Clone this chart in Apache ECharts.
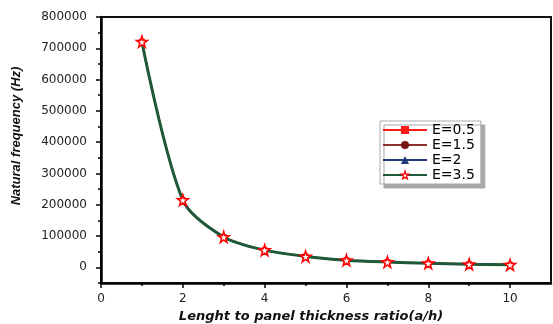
<!DOCTYPE html>
<html>
<head>
<meta charset="utf-8">
<script src="https://cdn.jsdelivr.net/npm/echarts@6/dist/echarts.min.js"></script>
<style>html,body{margin:0;padding:0;background:#fff;}#c{width:553px;height:324px;}</style>
</head>
<body>
<div id="c"></div>
<script>
var ratios = [1, 2, 3, 4, 5, 6, 7, 8, 9, 10];
var freqE05 = [721000, 215000, 97000, 55000, 35000, 23000, 17000, 13000, 10000, 8000];
var freqE15 = [721000, 215000, 97000, 55000, 35000, 23000, 17000, 13000, 10000, 8000];
var freqE2  = [721000, 215000, 97000, 55000, 35000, 23000, 17000, 13000, 10000, 8000];
var freqE35 = [721000, 215000, 97000, 55000, 35000, 23000, 17000, 13000, 10000, 8000];
var seriesNames = ['E=0.5', 'E=1.5', 'E=2', 'E=3.5'];
var xTickLabels = [0, 2, 4, 6, 8, 10];
var xMinorTicks = [1, 3, 5, 7, 9];
var yTickLabels = [0, 100000, 200000, 300000, 400000, 500000, 600000, 700000, 800000];

function pairs(vals) { return ratios.map(function (x, i) { return [x, vals[i]]; }); }
var star = 'path://M50,0 L61,35 L98,35 L68,57 L79,91 L50,70 L21,91 L32,57 L2,35 L39,35 Z';
var plain = function (v) { return String(v); };
var tickFont = { fontFamily: 'DejaVu Sans', fontSize: 12, color: '#222', formatter: plain };

var chart = echarts.init(document.getElementById('c'), null, { renderer: 'canvas' });
chart.setOption({
  animation: false,
  backgroundColor: '#fff',
  grid: { left: 101, right: 2, top: 17, bottom: 41, show: true, borderColor: '#111', borderWidth: 2 },
  xAxis: [
    { type: 'value', min: 0, max: 11, position: 'bottom',
      axisLine: { show: true, onZero: false, lineStyle: { color: '#000', width: 2.5 } },
      axisTick: { show: true, inside: false, length: 5, lineStyle: { color: '#000', width: 1.5 }, customValues: xTickLabels },
      axisLabel: Object.assign({ margin: 10, customValues: xTickLabels }, tickFont),
      splitLine: { show: false } },
    { type: 'value', min: 0, max: 11, position: 'bottom',
      axisLine: { show: false, onZero: false },
      axisTick: { show: true, length: 3, lineStyle: { color: '#000', width: 1.5 }, customValues: xMinorTicks },
      axisLabel: { show: false }, splitLine: { show: false } }
  ],
  yAxis: [
    { type: 'value', min: -50000, max: 800000, position: 'left',
      axisLine: { show: true, onZero: false, lineStyle: { color: '#000', width: 2.5 } },
      axisTick: { show: true, length: 5, lineStyle: { color: '#000', width: 1.5 }, customValues: yTickLabels },
      axisLabel: Object.assign({ margin: 14, customValues: yTickLabels }, tickFont),
      splitLine: { show: false } },
    { type: 'value', min: -50000, max: 800000, interval: 50000, position: 'left',
      axisLine: { show: false, onZero: false },
      axisTick: { show: true, length: 3, lineStyle: { color: '#000', width: 1.5 } },
      axisLabel: { show: false }, splitLine: { show: false } }
  ],
  legend: {
    left: 380, top: 121, orient: 'vertical',
    data: [
      { name: seriesNames[0] },
      { name: seriesNames[1] },
      { name: seriesNames[2] },
      { name: seriesNames[3], itemStyle: { color: '#ffffff', borderColor: '#ff0000', borderWidth: 1.2 } }
    ],
    itemWidth: 44, itemHeight: 10, itemGap: 1,
    padding: [2, 6, 2, 2],
    backgroundColor: '#fff', borderColor: '#aaa', borderWidth: 1,
    shadowColor: '#a8a8a8', shadowOffsetX: 4, shadowOffsetY: 4, shadowBlur: 0,
    textStyle: { fontFamily: 'DejaVu Sans', fontSize: 14, color: '#000', padding: [0, 0, 0, 0] }
  },
  graphic: [
    { type: 'text', x: 311, y: 317, silent: true,
      style: { text: 'Lenght to panel thickness ratio(a/h)', fill: '#111', font: 'italic bold 13px "DejaVu Sans"', align: 'center', verticalAlign: 'middle' } },
    { type: 'text', x: 16, y: 136, rotation: Math.PI / 2, silent: true,
      style: { text: 'Natural frequency (Hz)', fill: '#111', font: 'italic bold 13px "Liberation Sans"', align: 'center', verticalAlign: 'middle' } }
  ],
  series: [
    { name: 'E=0.5', type: 'line', data: pairs(freqE05), smooth: 0.3,
      symbol: 'rect', symbolSize: 6, color: '#ff1a1a', lineStyle: { width: 2, color: '#ff1a1a' }, itemStyle: { color: '#ff1a1a' } },
    { name: 'E=1.5', type: 'line', data: pairs(freqE15), smooth: 0.3,
      symbol: 'circle', symbolSize: 5, color: '#7a1515', lineStyle: { width: 1.5, color: '#8b3030' }, itemStyle: { color: '#7a1515' } },
    { name: 'E=2', type: 'line', data: pairs(freqE2), smooth: 0.3,
      symbol: 'triangle', symbolSize: 6, color: '#1f3a7a', lineStyle: { width: 1.5, color: '#1f3a7a' }, itemStyle: { color: '#1f3a7a' } },
    { name: 'E=3.5', type: 'line', data: pairs(freqE35), smooth: 0.3,
      symbol: star, symbolSize: 11, color: '#1e5a3a', lineStyle: { width: 3, color: '#1e5a3a' },
      itemStyle: { color: '#ffffff', borderColor: '#ff0000', borderWidth: 1.5 } }
  ]
});
</script>
</body>
</html>
